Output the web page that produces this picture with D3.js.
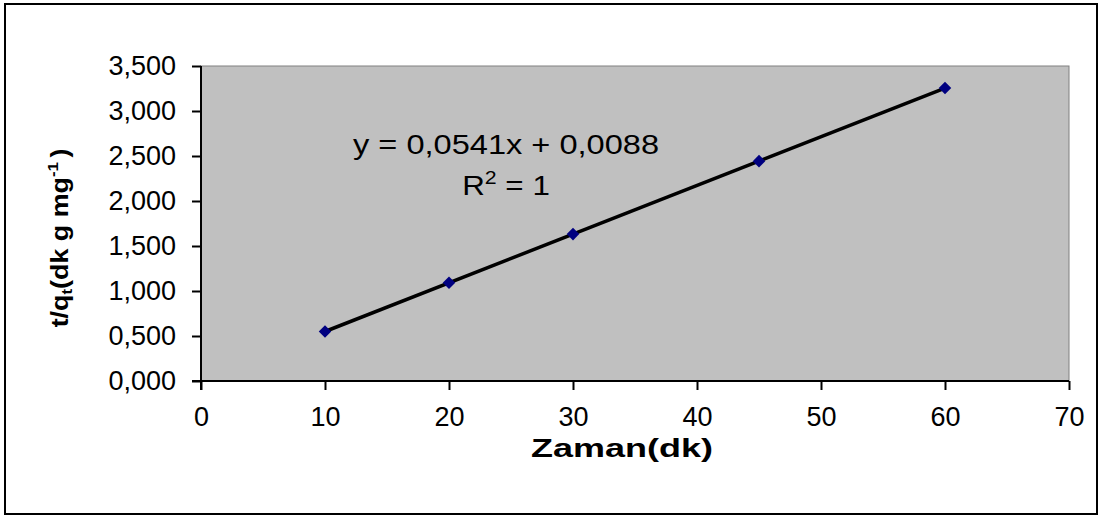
<!DOCTYPE html>
<html>
<head>
<meta charset="utf-8">
<script src="https://cdn.jsdelivr.net/npm/d3@7"></script>
<style>
  html, body { margin: 0; padding: 0; background: #fff; }
  svg { display: block; }
  text { font-family: "Liberation Sans", Arial, sans-serif; fill: #000; }
</style>
</head>
<body>
<svg id="chart" width="1101" height="516"></svg>
<script>
// ---- data ----
const timeMin = [10, 20, 30, 45, 60];
const tOverQt = [0.550, 1.091, 1.632, 2.443, 3.255];
const xTickValues = [0, 10, 20, 30, 40, 50, 60, 70];
const yTickValues = [0, 0.5, 1.0, 1.5, 2.0, 2.5, 3.0, 3.5];
const equationText = "y = 0,0541x + 0,0088";
const xTitle = "Zaman(dk)";

const svg = d3.select("#chart");
const plot = { left: 201, right: 1069, top: 66, bottom: 381 };

// outer border
svg.append("rect").attr("x", 5).attr("y", 4).attr("width", 1092).attr("height", 510)
  .attr("fill", "#fff").attr("stroke", "#000").attr("stroke-width", 2);

const x = d3.scaleLinear().domain([0, 70]).range([plot.left, plot.right]);
const y = d3.scaleLinear().domain([0, 3.5]).range([plot.bottom, plot.top]);

// plot area
svg.append("rect").attr("x", plot.left).attr("y", plot.top)
  .attr("width", plot.right - plot.left).attr("height", plot.bottom - plot.top)
  .attr("fill", "#C0C0C0").attr("stroke", "#808080").attr("stroke-width", 1);

const fmtY = v => d3.format(".3f")(v).replace(".", ",");

// axes
const gx = svg.append("g").attr("transform", `translate(0,${plot.bottom})`)
  .call(d3.axisBottom(x).tickValues(xTickValues).tickSize(9).tickPadding(17).tickSizeOuter(0));
const gy = svg.append("g").attr("transform", `translate(${plot.left},0)`)
  .call(d3.axisLeft(y).tickValues(yTickValues).tickFormat(fmtY).tickSize(9).tickPadding(16).tickSizeOuter(0));
[gx, gy].forEach(g => {
  g.select(".domain").attr("stroke", "#000").attr("stroke-width", 2);
  g.selectAll(".tick line").attr("stroke", "#000").attr("stroke-width", 2);
  g.selectAll(".tick text").attr("font-size", 27)
    .attr("font-family", "'Liberation Sans', Arial, sans-serif").attr("fill", "#000");
});
gy.select(".domain").attr("d", `M0,${plot.top}V${plot.bottom + 9}`);
gx.select(".domain").attr("d", `M${plot.left - 9},0H${plot.right}`);

// trendline (least squares from the data)
const n = timeMin.length;
const mx = d3.mean(timeMin), my = d3.mean(tOverQt);
let sxy = 0, sxx = 0;
for (let i = 0; i < n; i++) { sxy += (timeMin[i] - mx) * (tOverQt[i] - my); sxx += (timeMin[i] - mx) ** 2; }
const slope = sxy / sxx, intercept = my - slope * mx;
const xMin = d3.min(timeMin), xMax = d3.max(timeMin);
svg.append("line")
  .attr("x1", x(xMin)).attr("y1", y(slope * xMin + intercept))
  .attr("x2", x(xMax)).attr("y2", y(slope * xMax + intercept))
  .attr("stroke", "#000").attr("stroke-width", 3.5);

// markers
svg.append("g").selectAll("path").data(timeMin).join("path")
  .attr("d", d3.symbol().type(d3.symbolDiamond2).size(100))
  .attr("transform", (d, i) => `translate(${x(d)},${y(tOverQt[i])})`)
  .attr("fill", "#000080");

// equation & R2
svg.append("text").attr("x", 506).attr("y", 154).attr("text-anchor", "middle")
  .attr("font-size", 28).attr("textLength", 306).attr("lengthAdjust", "spacingAndGlyphs")
  .text(equationText);
const r2 = svg.append("text").attr("transform", "translate(506,195) scale(1.12,1)")
  .attr("text-anchor", "middle").attr("font-size", 28);
r2.append("tspan").text("R");
r2.append("tspan").attr("font-size", 19).attr("dy", -11).text("2");
r2.append("tspan").attr("dy", 11).text(" = 1");

// x title
svg.append("text").attr("x", 622).attr("y", 457).attr("text-anchor", "middle")
  .attr("font-size", 26).attr("font-weight", "bold")
  .attr("textLength", 182).attr("lengthAdjust", "spacingAndGlyphs")
  .text(xTitle);

// y title
const yt = svg.append("text")
  .attr("transform", "translate(68,238) rotate(-90) scale(1.12,1)")
  .attr("text-anchor", "middle").attr("font-size", 24).attr("font-weight", "bold");
yt.append("tspan").text("t/q");
yt.append("tspan").attr("font-size", 15).attr("dy", 4).text("t");
yt.append("tspan").attr("dy", -4).text("(dk g mg");
yt.append("tspan").attr("font-size", 15).attr("dy", -10).text("-1");
yt.append("tspan").attr("dy", 10).attr("dx", 4).text(")");
</script>
</body>
</html>
